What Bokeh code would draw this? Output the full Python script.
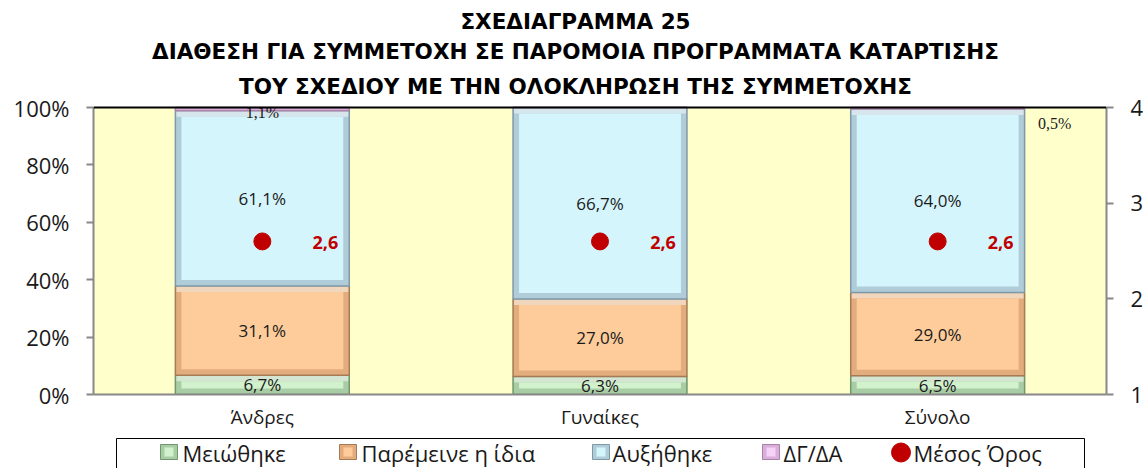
from bokeh.plotting import figure
from bokeh.layouts import column
from bokeh.models import (FactorRange, Range1d, LinearAxis, FixedTicker, NumeralTickFormatter,
                          Span, Label, BoxAnnotation)
from bokeh.core.properties import value
from bokeh.embed import file_html
from bokeh.resources import INLINE

categories = ["Άνδρες", "Γυναίκες", "Σύνολο"]
decreased = [6.7, 6.3, 6.5]
same = [31.1, 27.0, 29.0]
increased = [61.1, 66.7, 64.0]
dk_na = [1.1, 0.0, 0.5]
mean_score = [2.6, 2.6, 2.6]
series_names = ["Μειώθηκε", "Παρέμεινε η ίδια", "Αυξήθηκε", "ΔΓ/ΔΑ"]
mean_name = "Μέσος Όρος"
title_lines = ["ΣΧΕΔΙΑΓΡΑΜΜΑ 25",
               "ΔΙΑΘΕΣΗ ΓΙΑ ΣΥΜΜΕΤΟΧΗ ΣΕ ΠΑΡΟΜΟΙΑ ΠΡΟΓΡΑΜΜΑΤΑ ΚΑΤΑΡΤΙΣΗΣ",
               "ΤΟΥ ΣΧΕΔΙΟΥ ΜΕ ΤΗΝ ΟΛΟΚΛΗΡΩΣΗ ΤΗΣ ΣΥΜΜΕΤΟΧΗΣ"]
pct_ticks = [0, 0.2, 0.4, 0.6, 0.8, 1.0]
mean_ticks = [1, 2, 3, 4]

# ---- styles / layout constants (pixels) ----
W = 1148
MAIN_H, LEG_H = 437, 31
FRAME_L, FRAME_R = 93, 1106
PLOT_TOP, PLOT_BOTTOM = 107, 394          # 100% line and 0% line
PX_PER_UNIT = PLOT_BOTTOM - PLOT_TOP      # pixels for the 0..100% span
main_fill = ["#D2F2CE", "#FDCC9A", "#D5F5FD", "#F6D2F6"]
ring_fill = ["#A8CDA4", "#E3AC7C", "#AFCCD8", "#D9AED9"]
edge_line = ["#6F976B", "#A57A55", "#7F98A7", "#A882A8"]
DOT = "#C00000"
TXT = "#1a1a1a"
FONT = "Open Sans"
BAR_W = 0.515
BEVEL_Y = 6 / PX_PER_UNIT
BEVEL_X = 6 / ((FRAME_R - FRAME_L) / 3)
title_y = [21, 51, 86]
title_x = 575
legend_glyph_x = [160, 339, 592, 762, 891]
legend_text_x = [182, 361, 612, 783, 913]
legend_box = (116, 1084)
legend_mid = 15

series = [decreased, same, increased, dk_na]

# ---------------- main chart (title lives in the upper part of the frame) ----------------
y_top = PLOT_BOTTOM / PX_PER_UNIT
p = figure(x_range=FactorRange(*categories), y_range=Range1d(0, y_top),
           width=W, height=MAIN_H, output_backend="svg", toolbar_location=None,
           title=None, min_border_left=FRAME_L, min_border_right=W - FRAME_R,
           min_border_top=0, min_border_bottom=MAIN_H - PLOT_BOTTOM)
p.extra_y_ranges = {"mean": Range1d(1, 1 + 3 * y_top)}
p.background_fill_color = "white"
p.border_fill_color = "white"
p.outline_line_color = None
p.grid.visible = False

p.add_layout(BoxAnnotation(bottom=0, top=1, fill_color="#FFFFCC", fill_alpha=1,
                           line_color=None, level="underlay"))

bottoms = [0.0] * len(categories)
for i, s in enumerate(series):
    bots = list(bottoms)
    tops = [b + v / 100 for b, v in zip(bots, s)]
    p.vbar(x=categories, bottom=bots, top=tops, width=BAR_W,
           fill_color=ring_fill[i], line_color=edge_line[i], line_width=1.5)
    ix, ib, it, hx, hb, ht = [], [], [], [], [], []
    for c, b, t in zip(categories, bots, tops):
        if t - b > 2.5 * BEVEL_Y:
            ix.append(c); ib.append(b + BEVEL_Y); it.append(t - BEVEL_Y)
        if t - b > 1.5 * BEVEL_Y:
            hx.append(c); hb.append(t - BEVEL_Y); ht.append(t)
    if hx:
        p.vbar(x=hx, bottom=hb, top=ht, width=BAR_W - 0.006,
               fill_color="white", fill_alpha=0.5, line_color=None)
    if ix:
        p.vbar(x=ix, bottom=ib, top=it, width=BAR_W - 2 * BEVEL_X,
               fill_color=main_fill[i], line_color=None)
    xs, ys, ts, xo, yo, to = [], [], [], [], [], []
    for c, b, t, v in zip(categories, bots, tops, s):
        lab = f"{v:.1f}".replace(".", ",") + "%"
        if v >= 1:
            xs.append(c); ys.append((b + t) / 2); ts.append(lab)
        elif v > 0:
            xo.append(c); yo.append((b + t) / 2); to.append(lab)
    serif = (i == 3)
    if xs:
        p.text(x=xs, y=ys, text=ts, text_align="center", text_baseline="middle",
               text_font=value("Liberation Serif" if serif else FONT),
               text_font_size="16px" if serif else "17px", text_color=TXT,
               y_offset=3 if serif else 0)
    if xo:
        p.text(x=xo, y=yo, text=to, text_align="center", text_baseline="middle",
               text_font=value("Liberation Serif"), text_font_size="16px",
               text_color=TXT, x_offset=117, y_offset=15)
    bottoms = tops

p.scatter(x=categories, y=mean_score, y_range_name="mean", size=17,
          fill_color=DOT, line_color=DOT)
p.text(x=categories, y=mean_score, y_range_name="mean",
       text=[f"{m:.1f}".replace(".", ",") for m in mean_score],
       text_align="center", text_baseline="middle", text_font=value(FONT),
       text_font_size="18px", text_font_style="bold", text_color=DOT,
       x_offset=63, y_offset=1)

p.add_layout(Span(location=1.0, dimension="width", line_color="black", line_width=2))

for line, ty in zip(title_lines, title_y):
    p.add_layout(Label(x=title_x - FRAME_L, y=PLOT_BOTTOM - ty,
                       x_units="screen", y_units="screen", text=line,
                       text_align="center", text_baseline="middle",
                       text_font="DejaVu Sans", text_font_size="21.5px",
                       text_font_style="bold", text_color="black"))

axis_gray = "#888888"
ya = p.yaxis[0]
ya.ticker = FixedTicker(ticks=pct_ticks)
ya.formatter = NumeralTickFormatter(format="0%")
ya.bounds = (0, 1)
ra = LinearAxis(y_range_name="mean", ticker=FixedTicker(ticks=mean_ticks), bounds=(1, 4))
p.add_layout(ra, "right")
for ax in [ya, ra]:
    ax.major_label_text_font = FONT
    ax.major_label_text_font_size = "22px"
    ax.major_label_text_color = TXT
    ax.axis_line_color = axis_gray
    ax.axis_line_width = 2
    ax.major_tick_line_color = axis_gray
    ax.major_tick_line_width = 2
    ax.major_tick_out = 7
    ax.major_tick_in = 0
    ax.minor_tick_line_color = None
    ax.major_label_standoff = 17

xa = p.xaxis[0]
xa.major_label_text_font = FONT
xa.major_label_text_font_size = "19px"
xa.major_label_text_color = TXT
xa.axis_line_color = axis_gray
xa.axis_line_width = 2
xa.major_tick_line_color = None
xa.major_label_standoff = 3

# ---------------- legend strip (frame aligned with the chart frame) ----------------
fl = figure(width=W, height=LEG_H, x_range=Range1d(FRAME_L, FRAME_R), y_range=Range1d(LEG_H, 0),
            output_backend="svg", toolbar_location=None, x_axis_type=None, y_axis_type=None,
            min_border_left=FRAME_L, min_border_right=W - FRAME_R, min_border_top=0,
            min_border_bottom=0, outline_line_color=None)
fl.grid.visible = False
fl.quad(left=[legend_box[0]], right=[legend_box[1]], top=[1], bottom=[LEG_H + 10],
        fill_color="white", line_color="black", line_width=1)
gx = legend_glyph_x[:4]
fl.quad(left=gx, right=[g + 17 for g in gx], top=[legend_mid - 8] * 4, bottom=[legend_mid + 7] * 4,
        fill_color=ring_fill, line_color=edge_line, line_width=1)
fl.quad(left=[g + 4 for g in gx], right=[g + 13 for g in gx], top=[legend_mid - 5] * 4,
        bottom=[legend_mid + 4] * 4, fill_color=main_fill, line_color=None)
fl.scatter(x=[legend_glyph_x[4] + 9.5], y=[legend_mid], size=19, fill_color=DOT, line_color=DOT)
fl.text(x=legend_text_x, y=[legend_mid] * 5, text=series_names + [mean_name],
        text_align="left", text_baseline="middle", text_font=value(FONT),
        text_font_size="22px", text_color=TXT)

layout = column(p, fl, spacing=0)
open("out.html", "w").write(file_html(layout, INLINE))
